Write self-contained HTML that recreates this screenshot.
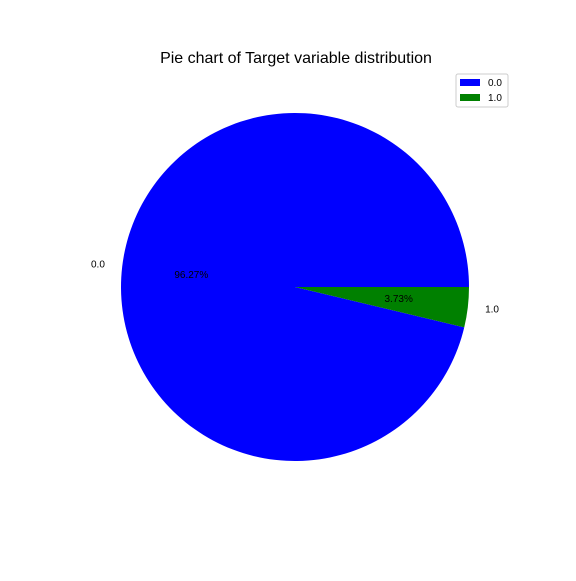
<!DOCTYPE html>
<html><head><meta charset="utf-8"><style>
body{margin:0;background:#fff;}
svg{font-family:"Liberation Sans","DejaVu Sans",sans-serif;}
</style></head><body>
<svg id="chart" width="576" height="576">
<rect width="576" height="576" fill="#fff"/>
<text x="296" y="63" text-anchor="middle" font-size="16">Pie chart of Target variable distribution</text>
<g id="slices"></g>
<g>
<rect x="456" y="74" width="52" height="33" fill="#fff" stroke="#ccc" rx="2"/>
<g id="legend-entries"></g>
</g>
</svg>
<script>
const categories = ["0.0", "1.0"];
const values = [96.27, 3.73];
const colors = ["#0000ff", "#008000"];
const cx = 295, cy = 287, r = 174;
const ns = "http://www.w3.org/2000/svg";
const g = document.getElementById("slices");
const total = values.reduce((a, b) => a + b, 0);
let start = 0;
function pt(a, rr) { return [cx + rr * Math.cos(a), cy - rr * Math.sin(a)]; }
values.forEach((v, i) => {
  const ang = v / total * 2 * Math.PI;
  const end = start + ang;
  const [x1, y1] = pt(start, r), [x2, y2] = pt(end, r);
  const p = document.createElementNS(ns, "path");
  p.setAttribute("d", `M${cx},${cy} L${x1},${y1} A${r},${r} 0 ${ang > Math.PI ? 1 : 0} 0 ${x2},${y2} Z`);
  p.setAttribute("fill", colors[i]);
  
  
  g.appendChild(p);
  const mid = start + ang / 2;
  const [lx, ly] = pt(mid, r * 1.1);
  const t = document.createElementNS(ns, "text");
  t.setAttribute("x", lx); t.setAttribute("y", ly + 3);
  t.setAttribute("font-size", "10");
  t.setAttribute("text-anchor", Math.cos(mid) < 0 ? "end" : "start");
  t.textContent = categories[i];
  
  
  g.appendChild(t);
  const [px, py] = pt(mid, r * 0.6);
  const t2 = document.createElementNS(ns, "text");
  t2.setAttribute("x", px); t2.setAttribute("y", py + 3);
  t2.setAttribute("font-size", "10");
  t2.setAttribute("text-anchor", "middle");
  t2.textContent = v.toFixed(2) + "%";
  
  
  g.appendChild(t2);
  start = end;
});
const lg = document.getElementById("legend-entries");
categories.forEach((c, i) => {
  const y = 78 + i * 15;
  const rc = document.createElementNS(ns, "rect");
  rc.setAttribute("x", 460); rc.setAttribute("y", y + 1);
  rc.setAttribute("width", 20); rc.setAttribute("height", 7);
  rc.setAttribute("fill", colors[i]);
  
  
  lg.appendChild(rc);
  const t = document.createElementNS(ns, "text");
  t.setAttribute("x", 488); t.setAttribute("y", y + 8);
  t.setAttribute("font-size", "10");
  t.textContent = c;
  
  
  lg.appendChild(t);
});
</script>
</body></html>
